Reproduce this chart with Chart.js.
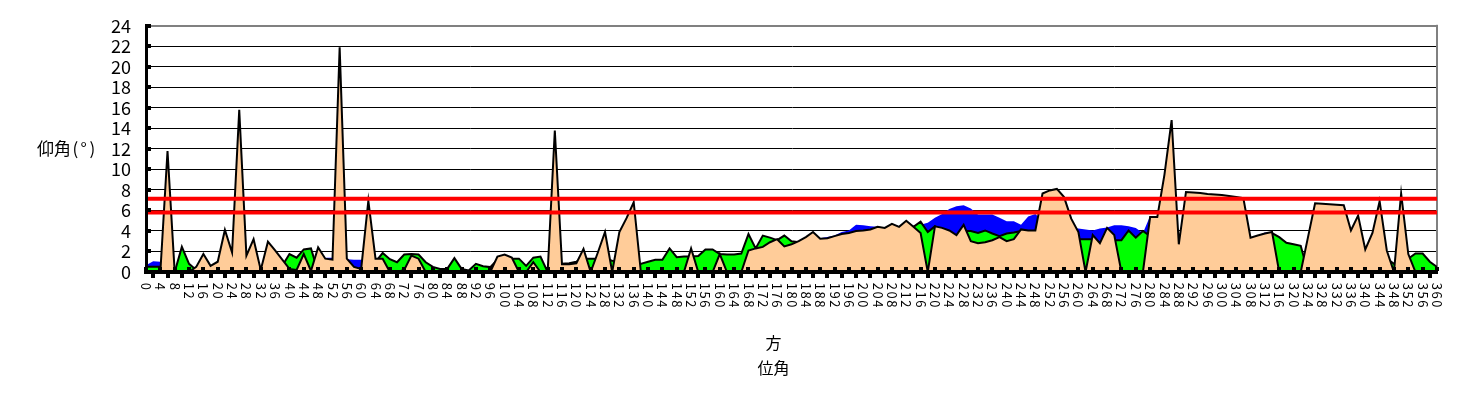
<!DOCTYPE html>
<html>
<head>
<meta charset="utf-8">
<script src="https://cdn.jsdelivr.net/npm/chart.js"></script>
<style>
  html, body { margin: 0; padding: 0; background: #fff; }
  canvas { display: block; }
</style>
</head>
<body>
<canvas id="chart" width="1463" height="397"></canvas>
<script>
// azimuth categories, every 2 degrees from 0 to 360
const angles = [];
for (let a = 0; a <= 360; a += 2) angles.push(a);

// azimuth tick labels (every 4 degrees) and elevation ticks
const xTickLabels = angles.filter(a => a % 4 === 0);
const yTicks = [0, 2, 4, 6, 8, 10, 12, 14, 16, 18, 20, 22, 24];

const yTitle = '仰角(°)';
const xTitle = ['方', '位角'];

// red limit lines (degrees)
const limitHigh = 7.15;
const limitLow = 5.8;

// front series (tan)
const elevTan = [
  0, 0, 0, 11.8, 0, 0, 0, 0.5, 1.75, 0.6,          // 0-18
  1.0, 4.1, 1.9, 15.8, 1.6, 3.2, 0.2, 2.95, 2.1, 1.2, // 20-38
  0.3, 0.2, 1.75, 0.1, 2.4, 1.3, 1.2, 21.9, 1.3, 0.5, // 40-58
  0.3, 6.95, 1.3, 1.3, 0, 0, 0.2, 1.6, 1.3, 0,       // 60-78
  0, 0, 0, 0, 0, 0, 0, 0, 0, 1.5,                    // 80-98
  1.7, 1.4, 0, 0, 0.95, 0, 0, 13.8, 0.75, 0.75,      // 100-118
  0.85, 2.25, 0, 1.9, 3.9, 0, 3.9, 5.25, 6.8, 0,     // 120-138
  0, 0, 0, 0, 0, 0, 2.3, 0, 0, 0,                    // 140-158
  1.75, 0, 0, 0, 2.1, 2.3, 2.45, 2.9, 3.2, 2.5,      // 160-178
  2.7, 3.0, 3.4, 3.9, 3.25, 3.3, 3.5, 3.7, 3.8, 4.0, // 180-198
  4.05, 4.15, 4.4, 4.3, 4.7, 4.4, 5.0, 4.4, 3.8, 0,  // 200-218
  4.45, 4.3, 4.05, 3.6, 4.6, 3.0, 2.8, 2.9, 3.1, 3.4, // 220-238
  3.0, 3.2, 4.15, 4.05, 4.05, 7.65, 7.95, 8.1, 7.3, 5.2, // 240-258
  3.9, 0, 3.6, 2.8, 4.3, 3.6, 0, 0, 0, 0,            // 260-278
  5.35, 5.35, 9.5, 14.8, 2.7, 7.8, 7.75, 7.7, 7.6, 7.55, // 280-298
  7.5, 7.4, 7.3, 7.2, 3.35, 3.55, 3.75, 3.9, 0, 0,   // 300-318
  0, 0, 3.35, 6.7, 6.65, 6.6, 6.55, 6.5, 4.05, 5.5,  // 320-338
  2.2, 3.8, 6.9, 2.1, 0, 7.65, 1.75, 0, 0, 0,        // 340-358
  0                                                  // 360
];

// middle series (green)
const elevGreen = [
  0.5, 0.5, 0.5, 0.3, 0, 2.45, 0.8, 0.2, 0, 0,
  0, 0, 0, 0, 0, 0, 0, 0, 0, 0.6,
  1.75, 1.4, 2.2, 2.3, 0, 0, 0, 0, 0, 0,
  0, 0, 1.0, 1.85, 1.25, 0.95, 1.7, 1.75, 1.7, 0.95,
  0.5, 0.3, 0.3, 1.35, 0.3, 0.15, 0.8, 0.57, 0.48, 1.2,
  1.5, 1.3, 1.3, 0.6, 1.4, 1.5, 0, 0, 0.8, 0.85,
  1.0, 1.3, 1.3, 1.3, 1.3, 1.1, 1.0, 0, 0, 0.8,
  1.0, 1.2, 1.2, 2.3, 1.45, 1.5, 1.5, 1.55, 2.2, 2.2,
  1.75, 1.7, 1.7, 1.8, 3.7, 2.3, 3.55, 3.35, 3.1, 3.55,
  3.0, 2.9, 0, 0, 0, 0, 0, 0, 0, 0,
  0, 0, 0, 0, 0, 0, 0, 4.4, 4.9, 3.9,
  4.45, 4.0, 3.8, 3.4, 4.0, 4.0, 3.8, 4.05, 3.75, 3.5,
  3.75, 3.85, 4.0, 4.0, 4.0, 0, 0, 0, 0, 0,
  3.2, 3.2, 3.2, 2.5, 3.0, 3.1, 3.1, 4.05, 3.35, 4.0,
  3.5, 0, 0, 0, 0, 0, 0, 0, 0, 0,
  0, 0, 0, 0, 0, 0, 3.0, 3.8, 3.4, 2.85,
  2.7, 2.55, 0, 0, 0, 0, 0, 0, 0, 0,
  0, 0, 0, 1.3, 0.8, 0, 1.3, 1.8, 1.8, 1.0,
  0.5
];

// back series (blue)
const elevBlue = [
  0.65, 1.05, 1.0, 0.3, 0, 2.45, 0.8, 0.2, 0, 0,
  0, 0, 0, 0, 0, 0, 0, 0, 0, 0.6,
  1.75, 1.4, 2.2, 2.3, 0, 1.4, 1.4, 1.4, 1.25, 1.2,
  1.2, 1.2, 1.0, 1.85, 1.25, 0.95, 1.7, 1.75, 1.7, 0.95,
  0.5, 0.3, 0.3, 1.35, 0.3, 0.15, 0.8, 0.57, 0.48, 1.2,
  1.5, 1.3, 1.3, 0.6, 1.4, 1.5, 0, 0, 0.8, 0.85,
  1.0, 1.3, 1.3, 1.3, 1.3, 1.1, 1.0, 0, 0, 0.8,
  1.0, 1.2, 1.2, 2.3, 1.45, 1.5, 1.5, 1.55, 2.2, 2.2,
  1.75, 1.7, 1.7, 1.8, 3.7, 2.3, 3.55, 3.35, 3.1, 3.55,
  3.0, 2.9, 0, 0, 3.3, 3.4, 3.55, 3.9, 4.05, 4.6,
  4.55, 4.45, 4.4, 4.35, 4.7, 4.45, 5.0, 4.5, 4.6, 4.8,
  5.3, 5.65, 6.15, 6.4, 6.5, 6.2, 5.6, 5.6, 5.6, 5.3,
  4.95, 4.95, 4.6, 5.4, 5.65, 5.0, 0, 0, 0, 4.3,
  4.25, 4.15, 4.05, 4.25, 4.35, 4.55, 4.55, 4.45, 4.3, 3.8,
  5.45, 5.45, 0, 0, 0, 0, 0, 0, 0, 0,
  0, 0, 0, 0, 0, 3.55, 3.85, 3.8, 3.4, 2.85,
  2.7, 2.55, 0, 0, 0, 0, 0, 0, 0, 0,
  0, 0, 0, 1.3, 0.8, 0, 1.3, 1.8, 1.8, 1.0,
  0.5
];

const FONT = '"Noto Sans CJK JP", "Noto Sans", sans-serif';

// frame, tick squares, rotated tick labels and titles
const decorations = {
  id: 'decorations',
  beforeDatasetsDraw(chart) {
    const { ctx, chartArea: a } = chart;
    ctx.save();
    ctx.fillStyle = '#808080';
    ctx.fillRect(a.right - 1, a.top - 1, 2, a.bottom - a.top + 1);
    ctx.restore();
  },
  afterDraw(chart) {
    const { ctx, chartArea: a, scales: { x, y } } = chart;
    ctx.save();
    ctx.fillStyle = '#000';

    yTicks.forEach(v => {
      if (v === 0) return;
      const py = Math.round(y.getPixelForValue(v));
      ctx.fillRect(a.left, py - 2, 5, 4);
    });
    angles.forEach(ang => {
      const px = Math.round(x.getPixelForValue(ang));
      if (ang % 4 === 0) ctx.fillRect(px - 2, a.bottom - 5, 4, 4);
      else ctx.fillRect(px - 2, a.bottom + 2, 4, 4);
    });

    // azimuth labels, turned a quarter clockwise
    ctx.font = '13px ' + FONT;
    ctx.textAlign = 'center';
    ctx.textBaseline = 'middle';
    const adv = 8.7;
    xTickLabels.forEach(ang => {
      const px = x.getPixelForValue(ang);
      String(ang).split('').forEach((ch, k) => {
        ctx.save();
        ctx.translate(px, a.bottom + 10 + k * adv + adv / 2);
        ctx.rotate(Math.PI / 2);
        ctx.fillText(ch, 0, 0);
        ctx.restore();
      });
    });

    // y title, horizontal, fixed-width cells
    ctx.font = '17px ' + FONT;
    let cx = 37;
    const ty = y.getPixelForValue(12);
    for (const ch of yTitle) {
      const w = ch.charCodeAt(0) > 0x2e80 ? 17 : 8.5;
      ctx.fillText(ch, cx + w / 2, ty);
      cx += w;
    }

    // x title, two lines
    ctx.font = '16px ' + FONT;
    const tx = x.getPixelForValue(175);
    xTitle.forEach((line, i) => ctx.fillText(line, tx, 343 + i * 25));
    ctx.restore();
  }
};

const chart = new Chart(document.getElementById('chart'), {
  type: 'line',
  data: {
    labels: angles,
    datasets: [
      { data: angles.map(() => limitHigh), borderColor: '#ff0000', borderWidth: 4, fill: false },
      { data: angles.map(() => limitLow), borderColor: '#ff0000', borderWidth: 4, fill: false },
      { data: elevTan, borderColor: '#000', borderWidth: 2, backgroundColor: '#ffcc99', fill: 'origin' },
      { data: elevGreen, borderColor: '#000', borderWidth: 2, backgroundColor: '#00ff00', fill: 'origin' },
      { data: elevBlue, borderColor: '#0000ff', borderWidth: 0, backgroundColor: '#0000ff', fill: 'origin' }
    ]
  },
  options: {
    responsive: false,
    animation: false,
    devicePixelRatio: 1,
    layout: { padding: { top: 21, right: 26, bottom: 0, left: 0 } },
    elements: {
      point: { radius: 0 },
      line: { tension: 0, borderJoinStyle: 'miter' }
    },
    plugins: {
      legend: { display: false },
      tooltip: { enabled: false }
    },
    scales: {
      x: {
        type: 'linear',
        min: 0,
        max: 360,
        ticks: { display: false, stepSize: 4 },
        grid: { display: false },
        border: { color: '#000', width: 4, z: 1 },
        afterFit: s => { s.height = 125; }
      },
      y: {
        min: 0,
        max: 24,
        ticks: {
          stepSize: 2,
          autoSkip: false,
          padding: 15,
          color: '#000',
          font: { family: FONT, size: 18 }
        },
        grid: {
          drawTicks: false,
          color: c => c.tick.value === 24 ? '#808080' : (c.tick.value === 0 ? 'rgba(0,0,0,0)' : '#000'),
          lineWidth: c => c.tick.value === 24 ? 2 : 1
        },
        border: { color: '#000', width: 3, z: 1 },
        afterFit: s => { s.width = 146; }
      }
    }
  },
  plugins: [decorations]
});
</script>
</body>
</html>
